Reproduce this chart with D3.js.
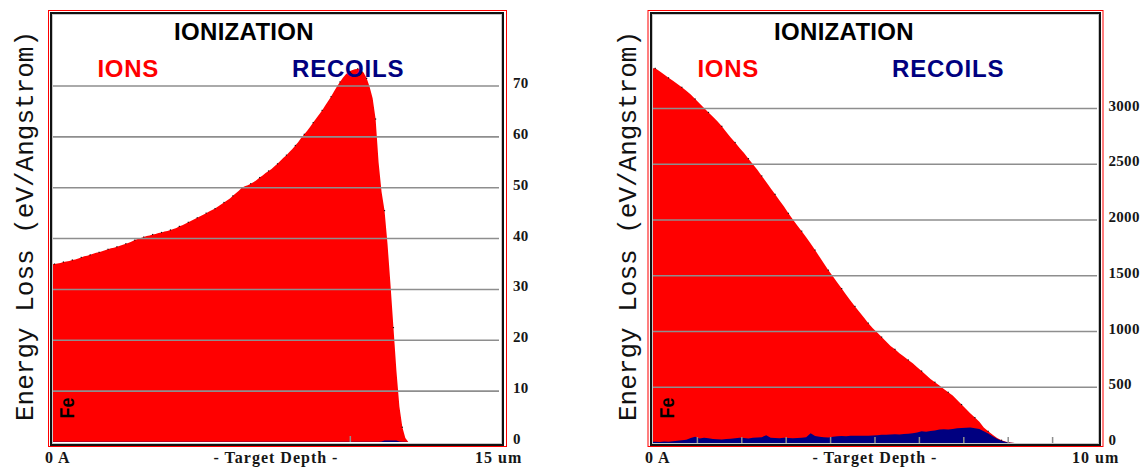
<!DOCTYPE html>
<html><head><meta charset="utf-8">
<script src="https://cdn.jsdelivr.net/npm/d3@7"></script>
<style>html,body{margin:0;padding:0;background:#fff;} svg{display:block}</style>
</head><body>
<svg id="chart" width="1148" height="468"></svg>
<script>
// ---------- DATA ----------
const titleText = "IONIZATION";
const seriesNames = ["IONS", "RECOILS"];
const yAxisTitle = "Energy Loss (eV/Angstrom)";
const xAxisTitle = "- Target Depth -";
const elementLabel = "Fe";

// Left chart: depth 0..15 um, 0.1 um bins
const leftDepthMax = 15;
const leftBinWidth = 0.1;
const leftStartLabel = "0 A";
const leftEndLabel = "15 um";
const leftYTicks = [0, 10, 20, 30, 40, 50, 60, 70];
const leftXTicks = [10];
const leftIons = [
  35.0, 35.1, 35.2, 35.4, 35.5, 35.6, 35.8, 35.9, 36.1, 36.3,
  36.5, 36.6, 36.8, 37.0, 37.2, 37.3, 37.5, 37.7, 37.9, 38.1,
  38.2, 38.4, 38.6, 38.8, 39.0, 39.2, 39.4, 39.7, 39.9, 40.1,
  40.3, 40.5, 40.6, 40.8, 40.9, 41.1, 41.2, 41.4, 41.5, 41.7,
  41.9, 42.1, 42.4, 42.6, 42.9, 43.2, 43.5, 43.8, 44.1, 44.4,
  44.7, 45.0, 45.3, 45.6, 45.9, 46.3, 46.7, 47.1, 47.5, 47.9,
  48.4, 48.9, 49.4, 50.0, 50.3, 50.5, 50.8, 51.1, 51.5, 52.0,
  52.4, 52.9, 53.3, 53.7, 54.2, 54.7, 55.3, 55.9, 56.4, 57.0,
  57.6, 58.3, 59.0, 59.8, 60.5, 61.2, 62.0, 62.8, 63.6, 64.4,
  65.2, 66.1, 67.0, 67.9, 68.9, 69.9, 70.8, 71.6, 72.3, 72.8,
  73.1, 73.3, 73.4, 73.2, 72.6, 71.5, 69.8, 67.6, 63.5, 55.0,
  49.2, 45.5, 39.0, 31.0, 22.5, 14.0, 7.0, 2.9, 0.8, 0
];
const leftRecoils = [
  0.05, 0.05, 0.05, 0.05, 0.05, 0.05, 0.05, 0.05, 0.05, 0.05,
  0.05, 0.05, 0.05, 0.05, 0.05, 0.05, 0.05, 0.05, 0.05, 0.05,
  0.05, 0.05, 0.05, 0.05, 0.05, 0.05, 0.05, 0.05, 0.05, 0.05,
  0.05, 0.05, 0.05, 0.05, 0.05, 0.05, 0.05, 0.05, 0.05, 0.05,
  0.05, 0.05, 0.05, 0.05, 0.05, 0.05, 0.05, 0.05, 0.05, 0.05,
  0.05, 0.05, 0.05, 0.05, 0.05, 0.05, 0.05, 0.05, 0.05, 0.05,
  0.05, 0.05, 0.05, 0.05, 0.05, 0.05, 0.05, 0.05, 0.05, 0.05,
  0.05, 0.05, 0.05, 0.05, 0.05, 0.05, 0.05, 0.05, 0.05, 0.05,
  0.05, 0.05, 0.05, 0.05, 0.05, 0.05, 0.05, 0.05, 0.05, 0.05,
  0.05, 0.05, 0.05, 0.05, 0.05, 0.05, 0.05, 0.05, 0.05, 0.05,
  0.05, 0.05, 0.05, 0.05, 0.05, 0.05, 0.05, 0.05, 0.05, 0.05,
  0.1, 0.3, 0.3, 0.3, 0.3, 0.3, 0.1, 0.05, 0.05, 0
];

// Right chart: depth 0..10 um, 0.1 um bins
const rightDepthMax = 10;
const rightBinWidth = 0.1;
const rightStartLabel = "0 A";
const rightEndLabel = "10 um";
const rightYTicks = [0, 500, 1000, 1500, 2000, 2500, 3000];
const rightXTicks = [1, 2, 3, 4, 5, 6, 7, 8, 9];
const rightIons = [
  3360, 3335, 3305, 3275, 3250, 3220, 3190, 3160, 3125, 3085,
  3045, 3005, 2965, 2925, 2885, 2840, 2790, 2740, 2695, 2645,
  2600, 2550, 2500, 2450, 2395, 2340, 2285, 2230, 2175, 2120,
  2060, 2005, 1950, 1900, 1845, 1790, 1730, 1670, 1610, 1550,
  1495, 1440, 1385, 1330, 1275, 1225, 1175, 1125, 1075, 1030,
  990, 950, 910, 870, 840, 805, 775, 745, 715, 680,
  645, 610, 575, 545, 515, 485, 455, 425, 385, 345,
  305, 265, 228, 190, 140, 105, 75, 45, 25, 12,
  5, 0
];
const rightRecoils = [
  12, 10, 14, 12, 16, 20, 24, 30, 45, 55,
  40, 48, 42, 36, 34, 32, 35, 38, 42, 46,
  44, 40, 46, 50, 52, 70, 48, 44, 42, 46,
  44, 42, 44, 46, 52, 88, 62, 55, 52, 50,
  56, 60, 62, 60, 64, 66, 64, 65, 66, 68,
  70, 75, 74, 76, 78, 76, 80, 82, 88, 95,
  105, 100, 108, 112, 120, 124, 122, 126, 132, 134,
  136, 138, 133, 125, 105, 85, 60, 38, 20, 8,
  3, 0
];

// ---------- LAYOUT ----------
const panels = [
  { ions: leftIons, recoils: leftRecoils, bin: leftBinWidth, xMax: leftDepthMax,
    yTicks: leftYTicks, xTicks: leftXTicks, startLabel: leftStartLabel, endLabel: leftEndLabel,
    x0: 53, x1: 499, yZero: 442, yTopTickPx: 86,
    red: [48.5, 10.5, 458, 436], blk: [51, 13, 452, 432], clipW: 449,
    labelX: 513, titleAxisX: 32.5, endLabelX: 475 },
  { ions: rightIons, recoils: rightRecoils, bin: rightBinWidth, xMax: rightDepthMax,
    yTicks: rightYTicks, xTicks: rightXTicks, startLabel: rightStartLabel, endLabel: rightEndLabel,
    x0: 653, x1: 1097, yZero: 443, yTopTickPx: 108.5,
    red: [648, 10.5, 455, 436], blk: [651, 13, 449, 432], clipW: 447,
    labelX: 1108.5, titleAxisX: 635.5, endLabelX: 1072 }
];

const svg = d3.select('#chart');
const RED = "#ff0000", NAVY = "#000080", GRID = "#8e8e8e";

panels.forEach((p, k) => {
  const g = svg.append('g');
  const x = d3.scaleLinear().domain([0, p.xMax]).range([p.x0, p.x1]);
  const yTopVal = p.yTicks[p.yTicks.length - 1];
  const y = d3.scaleLinear().domain([0, yTopVal]).range([p.yZero, p.yTopTickPx]);

  // frames
  g.append('rect').attr('x', p.red[0]).attr('y', p.red[1]).attr('width', p.red[2]).attr('height', p.red[3])
    .attr('fill', 'none').attr('stroke', RED).attr('stroke-width', 1);
  g.append('rect').attr('x', p.blk[0]).attr('y', p.blk[1]).attr('width', p.blk[2]).attr('height', p.blk[3])
    .attr('fill', '#fff').attr('stroke', '#111').attr('stroke-width', 2);
  g.append('rect').attr('x', p.blk[0] + 1.5).attr('y', p.blk[1] + 1.5).attr('width', p.blk[2] - 3).attr('height', p.blk[3] - 3)
    .attr('fill', 'none').attr('stroke', '#c8c8c8').attr('stroke-width', 1);

  const clipId = 'clip' + k;
  svg.append('clipPath').attr('id', clipId).append('rect')
    .attr('x', p.x0).attr('y', 15).attr('width', p.clipW).attr('height', p.yZero - 15 + 0.5);

  const plot = g.append('g').attr('clip-path', `url(#${clipId})`);

  // points at bin centres; the first bin value is held back to depth 0
  const toPts = arr => {
    const pts = [{ d: 0, v: arr[0] }];
    arr.forEach((v, i) => pts.push({ d: (i + 0.5) * p.bin, v }));
    return pts;
  };
  const area = d3.area().curve(d3.curveLinear)
    .x(d => x(d.d)).y0(y(0)).y1(d => y(d.v));

  const ionPts = toPts(p.ions);
  plot.append('path').datum(ionPts).attr('d', area).attr('fill', RED);
  plot.append('path').datum(toPts(p.recoils)).attr('d', area).attr('fill', NAVY);

  // data point dots on the ion curve
  plot.append('g').selectAll('rect').data(ionPts.slice(1).filter((d, i) => i % 3 === 0 && d.v > 0)).join('rect')
    .attr('x', d => x(d.d) - 0.6).attr('y', d => y(d.v) - 0.6)
    .attr('width', 1.2).attr('height', 1.2).attr('fill', '#000').attr('opacity', 0.85);

  // gridlines
  g.append('g').selectAll('line').data(p.yTicks.filter(t => t > 0)).join('line')
    .attr('x1', p.x0).attr('x2', p.x1)
    .attr('y1', d => y(d)).attr('y2', d => y(d))
    .attr('stroke', GRID).attr('stroke-width', 1.6);

  // x ticks
  g.append('g').selectAll('line').data(p.xTicks).join('line')
    .attr('x1', d => x(d)).attr('x2', d => x(d))
    .attr('y1', p.yZero - 6).attr('y2', p.yZero)
    .attr('stroke', GRID).attr('stroke-width', 1.5);

  // y tick labels
  g.append('g').selectAll('text').data(p.yTicks).join('text')
    .attr('x', p.labelX).attr('y', d => y(d) + 2)
    .attr('font-family', '"Liberation Serif", "Times New Roman", serif')
    .attr('font-weight', 'bold').attr('font-size', 15).attr('letter-spacing', 0.3)
    .attr('fill', '#161616').text(d => d);

  // titles
  g.append('text').attr('x', p.x0 + 191).attr('y', 39.5).attr('text-anchor', 'middle')
    .attr('font-family', '"Liberation Sans", Arial, sans-serif').attr('font-weight', 'bold')
    .attr('font-size', 24).attr('letter-spacing', 0.3).attr('fill', '#000').text(titleText);
  g.append('text').attr('x', p.x0 + 44.5).attr('y', 76.5)
    .attr('font-family', '"Liberation Sans", Arial, sans-serif').attr('font-weight', 'bold')
    .attr('font-size', 24).attr('letter-spacing', 0.7).attr('fill', RED).text(seriesNames[0]);
  g.append('text').attr('x', p.x0 + 239).attr('y', 76.5)
    .attr('font-family', '"Liberation Sans", Arial, sans-serif').attr('font-weight', 'bold')
    .attr('font-size', 24).attr('letter-spacing', 0.8).attr('fill', NAVY).text(seriesNames[1]);

  // element label
  g.append('text').attr('transform', `translate(${p.x0 + 20.5},418.5) rotate(-90) scale(0.85,1)`)
    .attr('font-family', '"Liberation Sans", Arial, sans-serif').attr('font-weight', 'bold')
    .attr('font-size', 21).attr('fill', '#000').text(elementLabel);

  // y axis title
  g.append('text').attr('transform', `translate(${p.titleAxisX},226) rotate(-90)`)
    .attr('text-anchor', 'middle')
    .attr('font-family', '"Liberation Mono", "Courier New", monospace')
    .attr('font-size', 26).attr('fill', '#111').text(yAxisTitle);

  // bottom labels
  const bl = { 'font-family': '"Liberation Serif", "Times New Roman", serif', 'font-weight': 'bold', 'font-size': 16, 'letter-spacing': 1, 'fill': '#161616' };
  const addBL = (txt, xx, anchor) => {
    const t = g.append('text').attr('x', xx).attr('y', 462.5).attr('text-anchor', anchor).text(txt);
    Object.entries(bl).forEach(([a, v]) => t.attr(a, v));
  };
  addBL(p.startLabel, p.x0 - 8, 'start');
  addBL(xAxisTitle, (p.x0 + p.x1) / 2, 'middle');
  addBL(p.endLabel, p.endLabelX, 'start');
});
</script>
</body></html>
